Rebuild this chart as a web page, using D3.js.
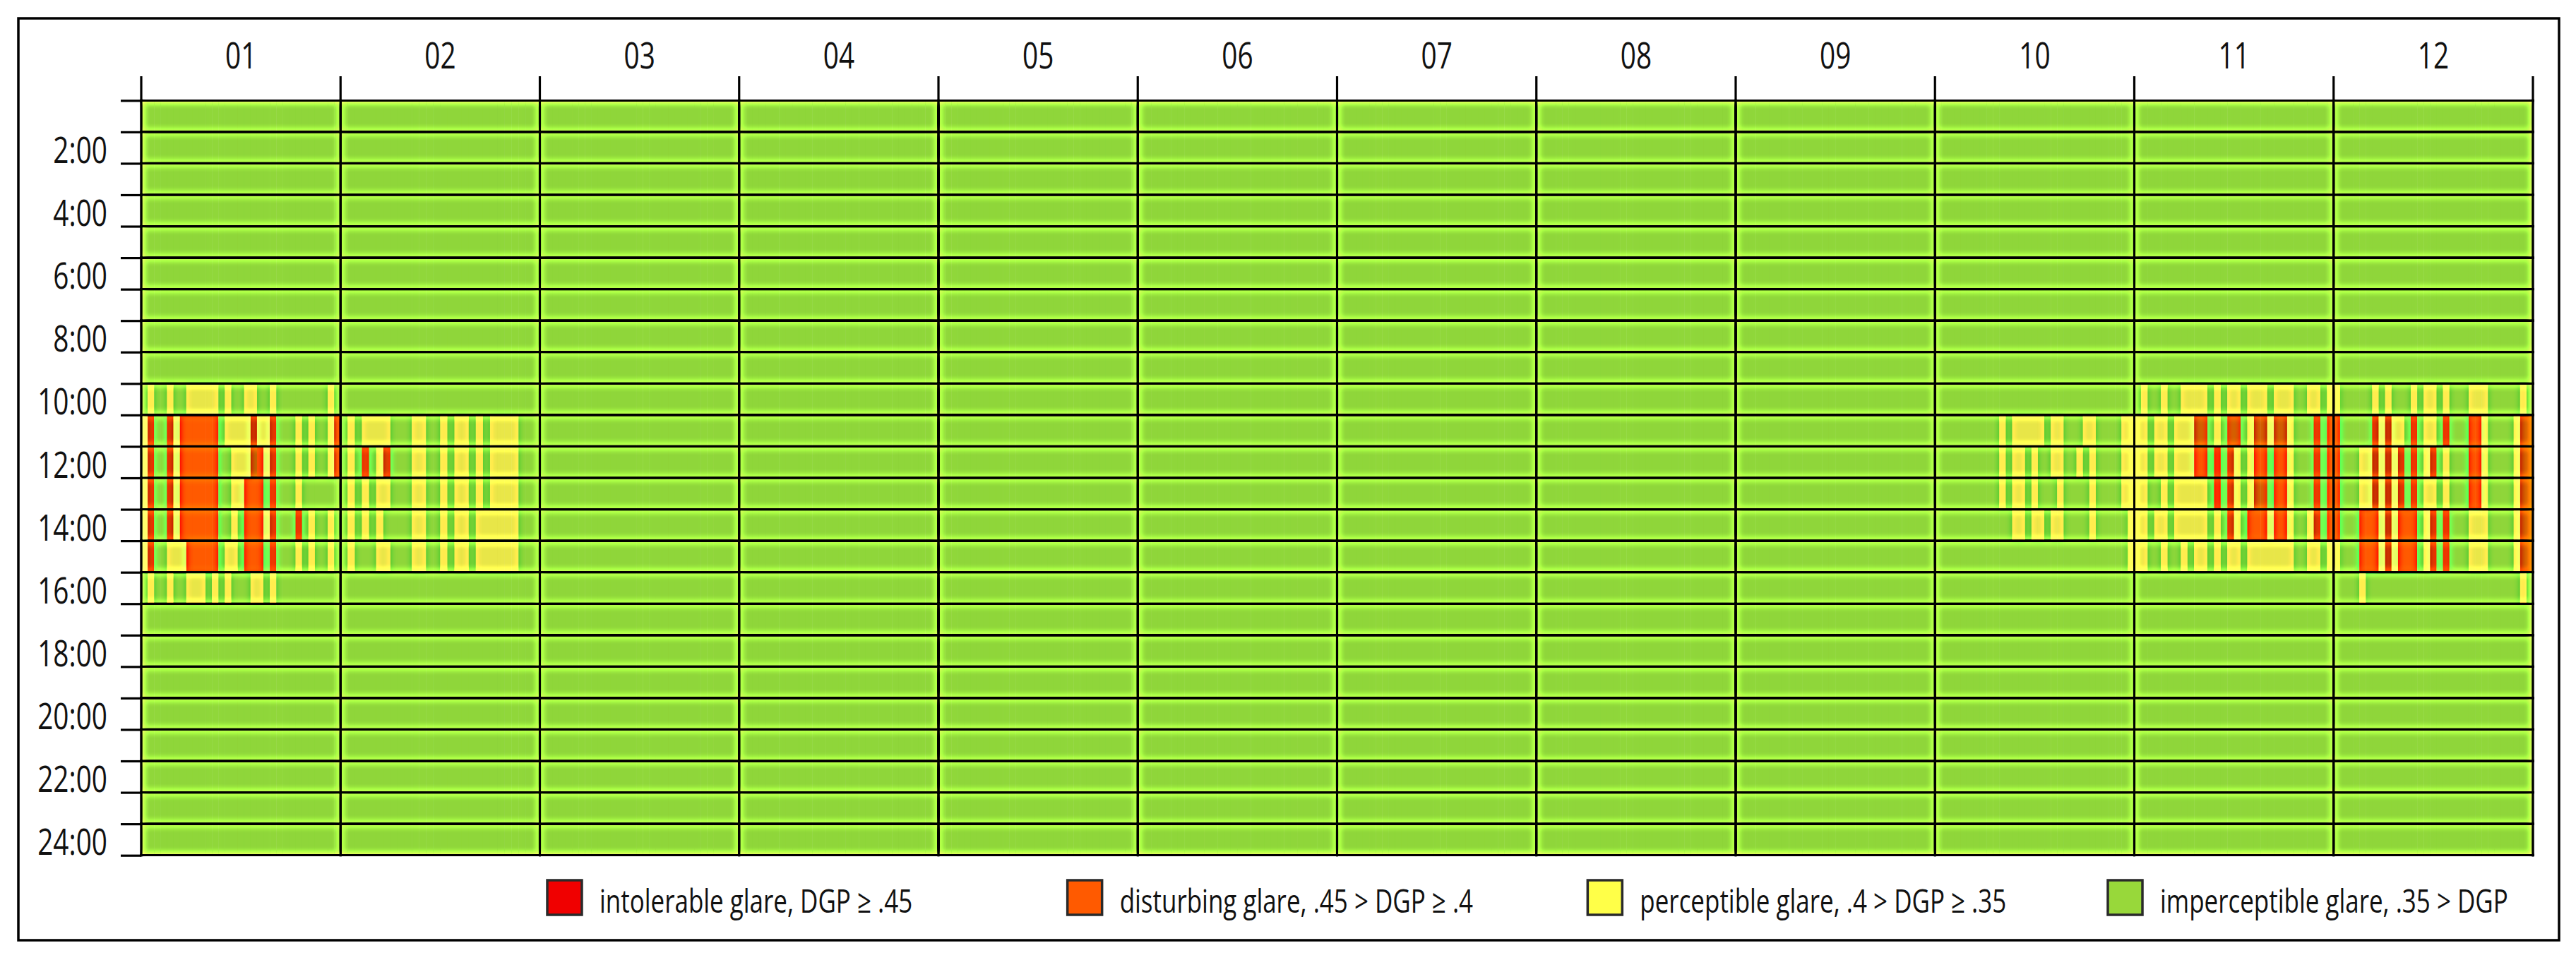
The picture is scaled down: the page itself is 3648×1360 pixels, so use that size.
<!DOCTYPE html>
<html>
<head>
<meta charset="utf-8">
<script src="https://cdn.jsdelivr.net/npm/d3@7"></script>
<style>
  html, body { margin: 0; padding: 0; background: #ffffff; }
  svg { display: block; }
  text { font-family: "Open Sans", "Noto Sans", "DejaVu Sans", sans-serif; fill: #111; }
</style>
</head>
<body>
<svg id="chart" width="3648" height="1360"></svg>
<script>
// ---------------- DATA ----------------
const months = ["01","02","03","04","05","06","07","08","09","10","11","12"];
const daysInMonth = [31,28,31,30,31,30,31,31,30,31,30,31];
const hourLabels = ["2:00","4:00","6:00","8:00","10:00","12:00","14:00","16:00","18:00","20:00","22:00","24:00"];
const hourLabelValues = [2,4,6,8,10,12,14,16,18,20,22,24];

// glare class per day for the hour rows 9:00-10:00 ... 15:00-16:00
// r = intolerable, o = disturbing, y = perceptible, g = imperceptible
const glareHours = [9,10,11,12,13,14,15];
const glareJan = [
  "gyggy ggyyy yygyg gyygg ygggg ggggy g",
  "yrggr yoooo oogyy yyryy rgggy gyggy r",
  "yrggr yoooo ooggy yyroy rgggy gyggy r",
  "yrggr yoooo ooggy yooog rgggy ggggg g",
  "yrggr yoooo ooggy goooy rgggr gyggy g",
  "yrggy yyooo oogyy gooog rgggy gyggy g",
  "gyggy ggyyy gygyg ggyyg ygggg ggggg g"
];
const glareFeb = [
  "ggggg ggggg ggggg ggggg ggggg ggg",
  "gygyy yyggg yyggy gyygy gyyyy ggg",
  "gygrg yrggg yyggy gyygy gyyyy ggg",
  "gygyg yyggg yyggy gyygy gyyyy ggg",
  "gygyg ygggg yyggy gyygy yyyyy ggg",
  "gyggg yyggg yyggy gyygy yyyyy ggg",
  "ggggg ggggg ggggg ggggg ggggg ggg"
];
const glareOct = [
  "ggggg ggggg ggggg ggggg ggggg ggggg g",
  "ggggg ggggg ygyyy yygyy gggyy ggggy y",
  "ggggg ggggg ygyyg yggyy ggygy ggggy y",
  "ggggg ggggg ygyyg ygggy ggggy ggggy y",
  "ggggg ggggg ggyyg yygyy ggggy ggggg y",
  "ggggg ggggg ggggg ggggg ggggg ggggg y",
  "ggggg ggggg ggggg ggggg ggggg ggggg g"
];
const glareNov = [
  "gyggy ggyyy ygygy ygyyy gyyyg gyygy",
  "yygyy gyyyr rgygr rgyrr yrryg ggrgo",
  "yygyy gyyyo ogogr ygyoo gooyg ggrgo",
  "yyggy gyyyy ygogr ygyrr gooyg ggrgo",
  "yygyy gyyyy ygygr ygooo yooyg gyrgo",
  "yyggy ggygy ygygy ygyyy yyyyg gyygy",
  "ggggg ggggg ggggg ggggg ggggg ggggg"
];
const glareDec = [
  "ygggg gygyg ggygy ygygg gyyyg ggggy g",
  "ogggg gryry ygrgy ygrgg gooyg gggyr r",
  "ogggy yryry rgrgy rgygg gooyg gggyr r",
  "ogggy yryry rgrgy ygygg gooyg gggyr r",
  "ogggo ooyry ooogy rgrgg gyyyg gggyr r",
  "ygggo ooyry ooogy rgrgg gyyyg gggyr r",
  "ggggy ggggg ggggg ggggg ggggg ggggy g"
];
const glareMonths = ["01","02","10","11","12"];
const glareTables = [glareJan, glareFeb, glareOct, glareNov, glareDec];

const classes = ["r","o","y","g"];
const classLabels = [
  "intolerable glare, DGP \u2265 .45",
  "disturbing glare, .45 > DGP \u2265 .4",
  "perceptible glare, .4 > DGP \u2265 .35",
  "imperceptible glare, .35 > DGP"
];
const cellColors = ["#d26400","#ff5a00","#e8e648","#8fd63a"];
const legendColors = ["#f00000","#ff5a00","#ffff48","#98d83a"];

// ---------------- LAYOUT ----------------
const W = 3648, H = 1360;
const X0 = 200, X1 = 3587, Y0 = 142.3, Y1 = 1211.7;
const SX = 0.76; // horizontal condensing of the text face

const svg = d3.select("#chart");

const xMonth = d3.scaleBand().domain(months).range([X0, X1]).paddingInner(0).paddingOuter(0);
const y = d3.scaleLinear().domain([0, 24]).range([Y0, Y1]);
const color = d3.scaleOrdinal().domain(classes).range(cellColors);

// cells
const cells = [];
months.forEach((m, mi) => {
  const gi = glareMonths.indexOf(m);
  const table = gi >= 0 ? glareTables[gi].map(s => s.replace(/ /g, "")) : null;
  for (let d = 0; d < daysInMonth[mi]; d++) {
    for (let h = 0; h < 24; h++) {
      let c = "g";
      const hi = glareHours.indexOf(h);
      if (table && hi >= 0) c = table[hi][d] || "g";
      cells.push({month: m, mi, day: d, hour: h, cls: c});
    }
  }
});

// sharpen filter (gives the halo / shading look of the original raster)
const defs = svg.append("defs");
const f = defs.append("filter").attr("id", "sharpen")
  .attr("filterUnits", "userSpaceOnUse")
  .attr("x", X0 - 3).attr("y", Y0 - 3).attr("width", X1 - X0 + 6).attr("height", Y1 - Y0 + 6)
  .attr("color-interpolation-filters", "sRGB");
f.append("feGaussianBlur").attr("in", "SourceGraphic").attr("stdDeviation", 5).attr("result", "blur");
f.append("feComposite").attr("in", "SourceGraphic").attr("in2", "blur")
  .attr("operator", "arithmetic").attr("k1", 0).attr("k2", 2.15).attr("k3", -1.15).attr("k4", 0);

svg.append("rect").attr("x", 0).attr("y", 0).attr("width", W).attr("height", H).attr("fill", "#ffffff");

const heat = svg.append("g").attr("filter", "url(#sharpen)");

const dayScales = months.map((m, mi) =>
  d3.scaleLinear().domain([0, daysInMonth[mi]]).range([xMonth(m), xMonth(m) + xMonth.bandwidth()]));

heat.selectAll("rect.cell").data(cells).join("rect")
  .attr("class", "cell")
  .attr("x", c => dayScales[c.mi](c.day))
  .attr("y", c => y(c.hour))
  .attr("width", c => dayScales[c.mi](c.day + 1) - dayScales[c.mi](c.day) + 0.6)
  .attr("height", c => y(c.hour + 1) - y(c.hour) + 0.6)
  .attr("fill", c => color(c.cls));

// grid lines inside the heat map
const hoursAll = d3.range(0, 25);
heat.selectAll("line.h").data(hoursAll).join("line")
  .attr("x1", X0 - 1.5).attr("x2", X1 + 1.5)
  .attr("y1", h => y(h)).attr("y2", h => y(h))
  .attr("stroke", "#000").attr("stroke-width", 3.2);
const bounds = months.map(m => xMonth(m)).concat([X1]);
heat.selectAll("line.v").data(bounds).join("line")
  .attr("x1", b => b).attr("x2", b => b)
  .attr("y1", Y0 - 1.5).attr("y2", Y1 + 1.5)
  .attr("stroke", "#000").attr("stroke-width", 3.2);

// left ticks + labels
const yAxis = d3.axisLeft(y).tickValues(hoursAll).tickSize(29).tickPadding(0)
  .tickFormat(h => { const i = hourLabelValues.indexOf(h); return i >= 0 ? hourLabels[i] : ""; });
const gy = svg.append("g").attr("transform", `translate(${X0},0)`).call(yAxis);
gy.select(".domain").remove();
gy.selectAll(".tick line").attr("stroke", "#000").attr("stroke-width", 3.2);
gy.selectAll(".tick text")
  .attr("x", 0).attr("dy", 0)
  .attr("transform", "translate(-48,-1) scale(" + SX + ",1)")
  .attr("text-anchor", "end")
  .style("font-size", "51px").style("font-family", "'Open Sans', sans-serif").attr("fill", "#111");

// top ticks at month boundaries + month labels
svg.append("g").selectAll("line").data(bounds).join("line")
  .attr("x1", b => b).attr("x2", b => b)
  .attr("y1", 108).attr("y2", Y0)
  .attr("stroke", "#000").attr("stroke-width", 3.2);
svg.append("g").selectAll("text").data(months).join("text")
  .attr("transform", m => `translate(${xMonth(m) + xMonth.bandwidth() / 2},97) scale(${SX},1)`)
  .attr("text-anchor", "middle")
  .style("font-size", "51px")
  .text(m => m);

// legend
const legX = d3.scaleLinear().domain([0, 3]).range([775, 2985]);
const leg = svg.append("g").selectAll("g").data(classes).join("g")
  .attr("transform", (c, i) => `translate(${legX(i)},1247)`);
leg.append("rect").attr("x", 0).attr("y", 0).attr("width", 49).attr("height", 49)
  .attr("fill", (c, i) => legendColors[i]).attr("stroke", "#2a2a2a").attr("stroke-width", 3.5);
leg.append("text")
  .attr("transform", `translate(74,46) scale(${SX},1)`)
  .style("font-size", "46px")
  .text((c, i) => classLabels[i]);

// outer frame
svg.append("rect").attr("x", 26).attr("y", 26).attr("width", 3598).attr("height", 1306)
  .attr("fill", "none").attr("stroke", "#000").attr("stroke-width", 3.5);
</script>
</body>
</html>
